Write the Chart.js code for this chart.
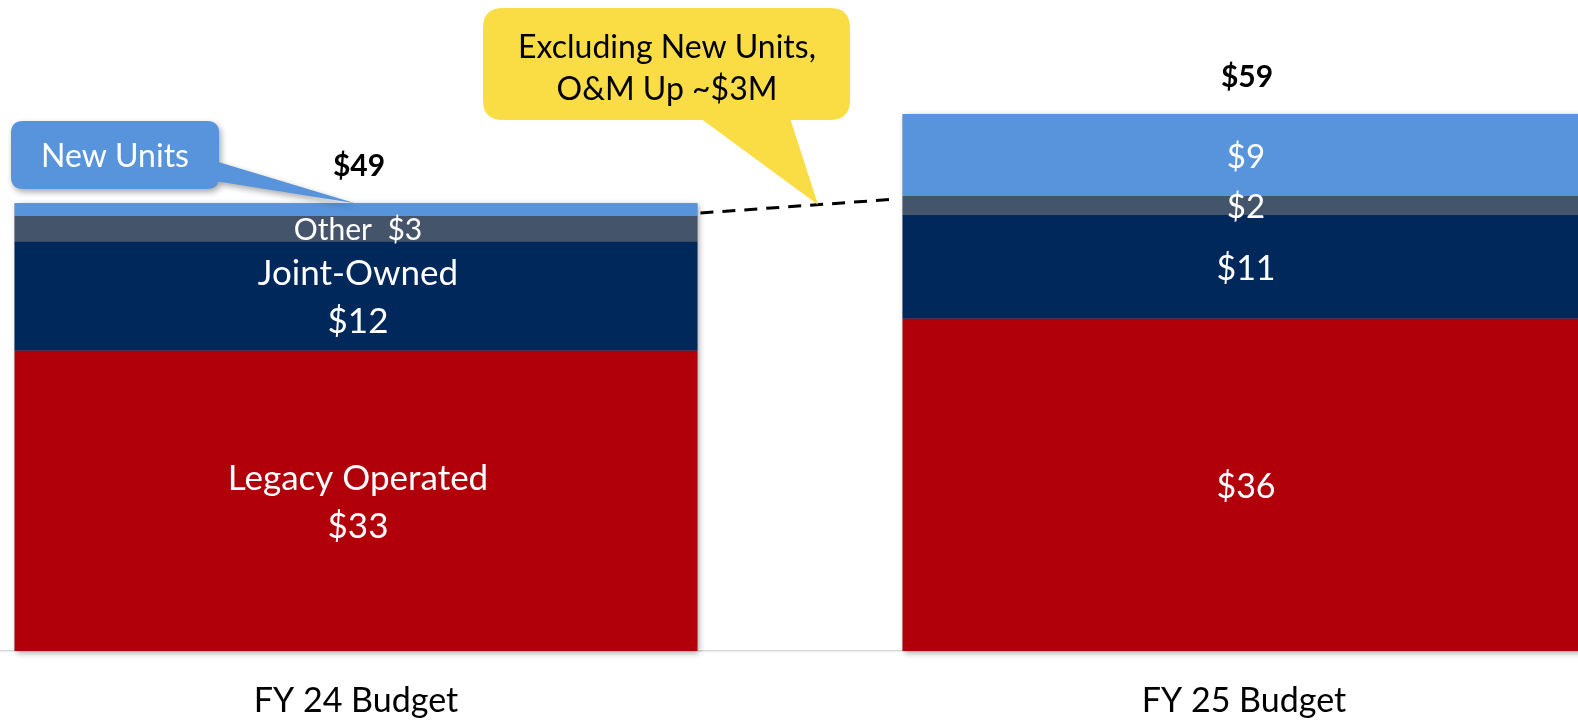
<!DOCTYPE html>
<html><head><meta charset="utf-8">
<script src="https://cdn.jsdelivr.net/npm/chart.js@4/dist/chart.umd.min.js"></script>
<style>
html,body{margin:0;padding:0;background:#fff;overflow:hidden;width:1578px;height:721px;}
#wrap{position:absolute;left:-88px;top:0;width:1776px;height:751px;}
</style></head><body>
<div id="wrap"><canvas id="c" width="1776" height="751"></canvas></div>
<script>
// ---- data ----
const categories = ['FY 24 Budget', 'FY 25 Budget'];
const seriesNames = ['Legacy Operated', 'Joint-Owned', 'Other', 'New Units'];
const legacyOperated = [33.0, 36.5];
const jointOwned = [12.0, 11.4];
const otherCosts = [2.8, 2.1];
const newUnits = [1.4, 9.0];
const totalLabels = ['$49', '$59'];
const legacyLabels = [['Legacy Operated', '$33'], ['$36']];
const jointLabels = [['Joint-Owned', '$12'], ['$11']];
const otherLabels = [['Other  $3'], ['$2']];
const newUnitsLabels = [[], ['$9']];
const calloutNewUnits = ['New Units'];
const calloutChange = ['Excluding New Units,', 'O&M Up ~$3M'];

// ---- styles ----
const FONT = 'Lato, "Noto Sans", sans-serif';
const SHIFT = 88; // canvas is shifted left by this many px
const colors = ['#B2000A', '#00285A', '#44546A', '#5894DC'];
const segLabelSets = [legacyLabels, jointLabels, otherLabels, newUnitsLabels];
const segLabelStyle = [
  [{size: 35, lh: 48}, {size: 34, lh: 40}],
  [{size: 35, lh: 48}, {size: 34, lh: 40}],
  [{size: 30, lh: 30}, {size: 33, lh: 34}],
  [{size: 33, lh: 34}, {size: 33, lh: 34}]
];

function roundRectPath(ctx, x, y, w, h, r) {
  ctx.moveTo(x + r, y);
  ctx.lineTo(x + w - r, y);
  ctx.quadraticCurveTo(x + w, y, x + w, y + r);
  ctx.lineTo(x + w, y + h - r);
  ctx.quadraticCurveTo(x + w, y + h, x + w - r, y + h);
  ctx.lineTo(x + r, y + h);
  ctx.quadraticCurveTo(x, y + h, x, y + h - r);
  ctx.lineTo(x, y + r);
  ctx.quadraticCurveTo(x, y, x + r, y);
  ctx.closePath();
}

const overlay = {
  id: 'overlay',
  beforeDatasetsDraw(chart) {
    const ctx = chart.ctx;
    const top = chart.getDatasetMeta(3).data;
    const bottom = chart.getDatasetMeta(0).data;
    ctx.save();
    ctx.shadowColor = 'rgba(0,0,0,0.35)';
    ctx.shadowBlur = 6;
    ctx.shadowOffsetX = 2;
    ctx.shadowOffsetY = 2;
    ctx.fillStyle = '#888';
    for (let i = 0; i < top.length; i++) {
      const t = top[i], b = bottom[i];
      ctx.fillRect(t.x - t.width / 2, t.y, t.width, b.base - t.y);
    }
    ctx.restore();
  },
  afterDatasetsDraw(chart) {
    const ctx = chart.ctx;
    ctx.save();
    ctx.textAlign = 'center';
    ctx.textBaseline = 'middle';
    ctx.fillStyle = '#fff';
    segLabelSets.forEach((set, di) => {
      const meta = chart.getDatasetMeta(di);
      meta.data.forEach((el, i) => {
        const lines = set[i];
        if (!lines || !lines.length) return;
        const st = segLabelStyle[di][i];
        ctx.font = st.size + 'px ' + FONT;
        const cy = (el.y + el.base) / 2 + 2;
        const y0 = cy - (lines.length - 1) * st.lh / 2;
        lines.forEach((ln, k) => ctx.fillText(ln, el.x + 2, y0 + k * st.lh));
      });
    });
    // totals
    ctx.fillStyle = '#000';
    ctx.font = 'bold 30px ' + FONT;
    chart.getDatasetMeta(3).data.forEach((el, i) => {
      ctx.fillText(totalLabels[i], el.x + 3, el.y - 37);
    });
    ctx.restore();
  },
  afterDraw(chart) {
    const ctx = chart.ctx;
    const oth = chart.getDatasetMeta(2).data;
    const nu = chart.getDatasetMeta(3).data;
    // dashed connector: FY24 excl. new units -> FY25 excl. new units
    const x1 = oth[0].x + oth[0].width / 2 + 3, y1 = oth[0].y - 3;
    const x2 = oth[1].x - oth[1].width / 2 - 5, y2 = oth[1].y + 3;
    ctx.save();
    ctx.strokeStyle = '#000';
    ctx.lineWidth = 3;
    ctx.setLineDash([13, 9]);
    ctx.beginPath();
    ctx.moveTo(x1, y1);
    ctx.lineTo(x2, y2);
    ctx.stroke();
    ctx.restore();

    // yellow callout
    const tipX = 818 + SHIFT;
    const tipY = y1 + (y2 - y1) * (tipX - x1) / (x2 - x1);
    ctx.save();
    ctx.fillStyle = '#FADC44';
    ctx.beginPath();
    roundRectPath(ctx, 483 + SHIFT, 8, 367, 112, 20);
    ctx.fill();
    ctx.beginPath();
    ctx.moveTo(700 + SHIFT, 118);
    ctx.lineTo(790 + SHIFT, 118);
    ctx.lineTo(tipX, tipY);
    ctx.closePath();
    ctx.fill();
    ctx.fillStyle = '#000';
    ctx.font = '32px ' + FONT;
    ctx.textAlign = 'center';
    ctx.textBaseline = 'middle';
    calloutChange.forEach((ln, k) => ctx.fillText(ln, 667 + SHIFT, 48 + k * 42));
    ctx.restore();

    // New Units callout
    const nTipX = 355 + SHIFT, nTipY = nu[0].y;
    ctx.save();
    ctx.shadowColor = 'rgba(0,0,0,0.35)';
    ctx.shadowBlur = 6;
    ctx.shadowOffsetX = 2;
    ctx.shadowOffsetY = 3;
    ctx.fillStyle = colors[3];
    ctx.beginPath();
    roundRectPath(ctx, 11 + SHIFT, 121, 208, 68, 12);
    ctx.moveTo(215 + SHIFT, 161);
    ctx.lineTo(nTipX, nTipY);
    ctx.lineTo(215 + SHIFT, 181);
    ctx.closePath();
    ctx.fill();
    ctx.restore();
    ctx.save();
    ctx.fillStyle = '#fff';
    ctx.font = '32px ' + FONT;
    ctx.textAlign = 'center';
    ctx.textBaseline = 'middle';
    ctx.fillText(calloutNewUnits[0], 115 + SHIFT, 157);
    ctx.restore();
  }
};

new Chart(document.getElementById('c'), {
  type: 'bar',
  data: {
    labels: categories,
    datasets: [
      {label: seriesNames[0], data: legacyOperated, backgroundColor: colors[0]},
      {label: seriesNames[1], data: jointOwned, backgroundColor: colors[1]},
      {label: seriesNames[2], data: otherCosts, backgroundColor: colors[2]},
      {label: seriesNames[3], data: newUnits, backgroundColor: colors[3]}
    ]
  },
  options: {
    responsive: false,
    animation: false,
    devicePixelRatio: 1,
    layout: {padding: {top: 14, left: 0, right: 0, bottom: 0}},
    datasets: {bar: {categoryPercentage: 1, barPercentage: 0.769, borderWidth: 0}},
    plugins: {legend: {display: false}, tooltip: {enabled: false}},
    scales: {
      x: {
        stacked: true,
        offset: true,
        grid: {display: false, drawTicks: false},
        border: {display: true, color: '#d9d9d9', width: 1.5},
        ticks: {font: {family: FONT, size: 34, lineHeight: 1.2}, color: '#000', padding: 29.6, maxRotation: 0, autoSkip: false}
      },
      y: {stacked: true, display: false, min: 0, max: 70}
    }
  },
  plugins: [overlay]
});
</script>
</body></html>
